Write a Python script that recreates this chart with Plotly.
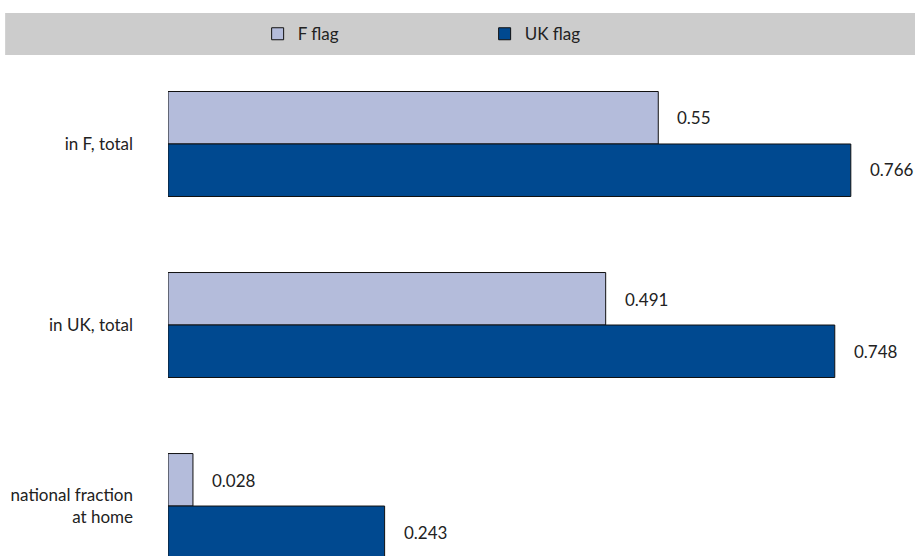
import plotly.graph_objects as go

categories = ["in F, total", "in UK, total", "national fraction<br>at home"]
f_flag = [0.55, 0.491, 0.028]
uk_flag = [0.766, 0.748, 0.243]

F_COLOR = "#B4BCDB"
UK_COLOR = "#004990"
FONT = dict(family="Lato, 'Open Sans', sans-serif", size=17, color="#222222")

fig = go.Figure()
fig.add_trace(go.Bar(y=categories, x=f_flag, orientation="h", name="F flag",
                     marker=dict(color=F_COLOR, line=dict(color="#111111", width=1))))
fig.add_trace(go.Bar(y=categories, x=uk_flag, orientation="h", name="UK flag",
                     marker=dict(color=UK_COLOR, line=dict(color="#111111", width=1))))

# value labels beside each bar
annotations = []
for cat, v in zip(categories, f_flag):
    annotations.append(dict(x=v, y=cat, text=str(v), showarrow=False, xanchor="left",
                            xshift=17, yshift=26, font=FONT))
for cat, v in zip(categories, uk_flag):
    annotations.append(dict(x=v, y=cat, text=str(v), showarrow=False, xanchor="left",
                            xshift=17, yshift=-26, font=FONT))

fig.update_layout(
    width=915, height=556,
    margin=dict(l=168, r=0, t=60, b=0),
    paper_bgcolor="white", plot_bgcolor="white",
    barmode="group", bargap=0.42, bargroupgap=0,
    font=FONT,
    showlegend=True,
    legend=dict(orientation="h", x=0.12, xanchor="left", y=1.052, yanchor="middle",
                bgcolor="rgba(0,0,0,0)", entrywidth=182, entrywidthmode="pixels",
                traceorder="normal", font=FONT, itemwidth=30),
    xaxis=dict(range=[0, 0.838], showgrid=False, showticklabels=False, zeroline=False,
               showline=False),
    yaxis=dict(range=[2.276, -0.464], showgrid=False, showline=False, ticks="",
               ticklabelstandoff=34, tickfont=FONT),
    annotations=annotations,
    shapes=[dict(type="rect", xref="paper", yref="paper", x0=-0.218, x1=1.0,
                 y0=1.0101, y1=1.0948, fillcolor="#CCCCCC", line=dict(width=0),
                 layer="below")],
)

fig.write_html("out.html")
